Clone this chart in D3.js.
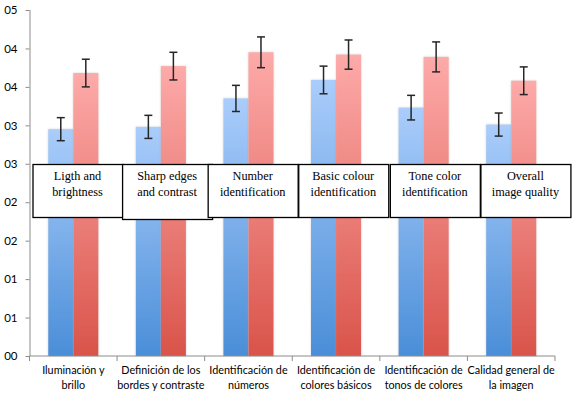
<!DOCTYPE html>
<html>
<head>
<meta charset="utf-8">
<script src="https://cdn.jsdelivr.net/npm/d3@7"></script>
<style>
  body { margin: 0; background: #fff; }
  svg { display: block; }
</style>
</head>
<body>
<div class="chart"></div>
<script>
// data
const categories = [
  ["Iluminación y", "brillo"],
  ["Definición de los", "bordes y contraste"],
  ["Identificación de", "números"],
  ["Identificación de", "colores básicos"],
  ["Identificación de", "tonos de colores"],
  ["Calidad general de", "la imagen"]
];
const boxLabels = [
  ["Ligth and", "brightness"],
  ["Sharp edges", "and contrast"],
  ["Number", "identification"],
  ["Basic colour", "identification"],
  ["Tone color", "identification"],
  ["Overall", "image quality"]
];
const seriesNames = ["blue", "red"];
const blueValues = [2.95, 2.98, 3.35, 3.59, 3.23, 3.01];
const redValues = [3.68, 3.77, 3.95, 3.92, 3.89, 3.58];
const blueErr = [0.15, 0.15, 0.17, 0.18, 0.16, 0.15];
const redErr = [0.18, 0.18, 0.20, 0.19, 0.195, 0.18];
const yTicks = [0, 0.5, 1, 1.5, 2, 2.5, 3, 3.5, 4, 4.5];
const yTickLabels = ["00", "01", "01", "02", "02", "03", "03", "04", "04", "05"];

// layout
const W = 577, H = 399;
const mLeft = 29.5, mRight = 555, mTop = 10, mBottom = 356;
const boxDx = [3, 5, 3, 6, 10, 13]; // hand placed text boxes
const boxW = 90;
const labelFont = "Lato, 'Open Sans', sans-serif";

const svg = d3.select(".chart").append("svg")
  .attr("width", W)
  .attr("height", H);

const defs = svg.append("defs");
const grads = {
  blue: ["#aacdfb", "#4a8ed8"],
  red: ["#fdaaa9", "#d9544a"]
};
Object.keys(grads).forEach(k => {
  const g = defs.append("linearGradient")
    .attr("id", "g-" + k)
    .attr("x1", 0).attr("y1", 0).attr("x2", 0).attr("y2", 1);
  g.append("stop").attr("offset", "0%").attr("stop-color", grads[k][0]);
  g.append("stop").attr("offset", "100%").attr("stop-color", grads[k][1]);
});
defs.append("filter").attr("id", "shadow")
  .attr("x", "-20%").attr("y", "-5%").attr("width", "140%").attr("height", "110%")
  .append("feDropShadow")
  .attr("dx", 0).attr("dy", 0).attr("stdDeviation", 1)
  .attr("flood-color", "#999").attr("flood-opacity", 0.45);

const x = d3.scaleBand()
  .domain(d3.range(categories.length))
  .range([mLeft, mRight]);

const x1 = d3.scaleBand()
  .domain(seriesNames)
  .range([0, x.bandwidth()])
  .paddingOuter(0.75);

const y = d3.scaleLinear()
  .domain([0, 4.5])
  .range([mBottom, mTop]);

const rows = categories.map((c, i) => [
  { s: "blue", v: blueValues[i], e: blueErr[i] },
  { s: "red", v: redValues[i], e: redErr[i] }
]);

// bars
const groups = svg.append("g").selectAll("g")
  .data(rows)
  .enter()
  .append("g")
  .attr("transform", (d, i) => "translate(" + x(i) + ",0)");

groups.selectAll("rect")
  .data(d => d)
  .enter()
  .append("rect")
  .attr("x", d => x1(d.s))
  .attr("width", x1.bandwidth())
  .attr("y", d => y(d.v))
  .attr("height", d => y(0) - y(d.v))
  .attr("fill", d => "url(#g-" + d.s + ")")
  .attr("filter", "url(#shadow)");

// error bars
const eb = groups.selectAll("g.err")
  .data(d => d)
  .enter()
  .append("g")
  .attr("class", "err")
  .attr("stroke", "#262626")
  .attr("stroke-width", 1.5);
eb.append("line")
  .attr("x1", d => x1(d.s) + x1.bandwidth() / 2)
  .attr("x2", d => x1(d.s) + x1.bandwidth() / 2)
  .attr("y1", d => y(d.v + d.e))
  .attr("y2", d => y(d.v - d.e));
[1, -1].forEach(sign => {
  eb.append("line")
    .attr("x1", d => x1(d.s) + x1.bandwidth() / 2 - 4)
    .attr("x2", d => x1(d.s) + x1.bandwidth() / 2 + 4)
    .attr("y1", d => y(d.v + sign * d.e))
    .attr("y2", d => y(d.v + sign * d.e));
});

// y axis
const yAxis = svg.append("g")
  .attr("transform", "translate(" + mLeft + ",0)")
  .call(d3.axisLeft(y)
    .tickValues(yTicks)
    .tickSize(4)
    .tickPadding(8)
    .tickFormat((d, i) => yTickLabels[i]));
yAxis.select(".domain").attr("stroke", "#8c8c8c").attr("d", "M0.5," + mBottom + "V" + mTop);
yAxis.selectAll(".tick line").attr("stroke", "#8c8c8c");
yAxis.selectAll("text")
  .attr("fill", "#000")
  .style("font-family", labelFont)
  .style("font-size", "11.5px");

// x axis
const xAxis = svg.append("g")
  .attr("transform", "translate(0," + mBottom + ")");
xAxis.append("line")
  .attr("x1", mLeft).attr("x2", mRight)
  .attr("stroke", "#8c8c8c");
xAxis.selectAll("line.tk")
  .data(d3.range(categories.length + 1))
  .enter()
  .append("line")
  .attr("class", "tk")
  .attr("x1", i => i < categories.length ? x(i) : x(i - 1) + x.bandwidth())
  .attr("x2", i => i < categories.length ? x(i) : x(i - 1) + x.bandwidth())
  .attr("y1", 0).attr("y2", 5)
  .attr("stroke", "#8c8c8c");
xAxis.selectAll("text")
  .data(categories)
  .enter()
  .append("text")
  .attr("text-anchor", "middle")
  .attr("x", (d, i) => x(i) + x.bandwidth() / 2)
  .style("font-family", labelFont)
  .style("font-size", "10.8px")
  .each(function (d) {
    d3.select(this).selectAll("tspan")
      .data(d)
      .enter()
      .append("tspan")
      .attr("x", d3.select(this).attr("x"))
      .attr("y", (t, j) => 18 + j * 15)
      .text(t => t);
  });

// english text boxes over the bars
const boxes = svg.append("g").selectAll("g")
  .data(boxLabels)
  .enter()
  .append("g")
  .attr("transform", (d, i) => "translate(" + (x(i) + boxDx[i]) + "," + Math.round(y(2.5)) + ")");
boxes.append("rect")
  .attr("x", 0.5).attr("y", 0.5)
  .attr("width", boxW)
  .attr("height", (d, i) => i === 1 ? 55 : 53)
  .attr("fill", "#fff")
  .attr("stroke", "#000")
  .attr("stroke-width", 1.3);
boxes.append("text")
  .attr("text-anchor", "middle")
  .style("font-family", "'Liberation Serif', 'Times New Roman', serif")
  .style("font-size", "12.3px")
  .each(function (d, i) {
    d3.select(this).selectAll("tspan")
      .data(d)
      .enter()
      .append("tspan")
      .attr("x", boxW / 2)
      .attr("y", (t, j) => 16 + j * 16)
      .text(t => t);
  });
</script>
</body>
</html>
